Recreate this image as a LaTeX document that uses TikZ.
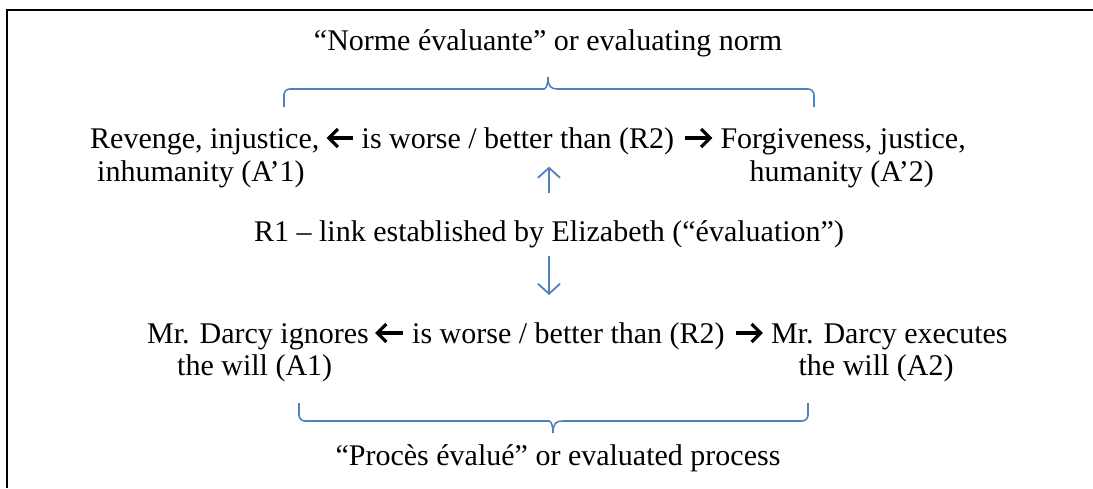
\documentclass[tikz,border=0pt]{standalone}
\usepackage{fontspec}
\setmainfont{Liberation Serif}
\usetikzlibrary{arrows.meta,calc}
\definecolor{braceblue}{RGB}{79,129,189}
\begin{document}
\begin{tikzpicture}[x=1pt,y=-1pt,
  txt/.style={inner sep=0pt,font=\fontsize{30}{33}\selectfont},
  frameline/.style={line width=2pt,black},
  bracestyle/.style={line width=1.6pt,braceblue},
  varrow/.style={line width=1.8pt,braceblue,-{Straight Barb[length=10pt,width=22pt]}},
  txtarrow/.style={line width=3.2pt,black,-{Straight Barb[length=9pt,width=18pt]}}]
\useasboundingbox (0,0) rectangle (1093,488);
\draw[frameline] (7,488) -- (7,10) -- (1093,10);

% titles
\node[txt,anchor=base] (T) at (548,50) {“Norme évaluante” or evaluating norm};
\node[txt,anchor=base] (B) at (558,465) {“Procès évalué” or evaluated process};

% top row
\node[txt,anchor=base west] (L1a) at (90,148) {Revenge, injustice,};
\node[txt,anchor=base west] (M1) at ($(L1a.base east)+(42,0)$) {is worse / better than (R2)};
\node[txt,anchor=base west] (R1a) at ($(M1.base east)+(46,0)$) {Forgiveness, justice,};
\node[txt,anchor=base west] (L1b) at ($(L1a.base west)+(7,33)$) {inhumanity (A’1)};
\node[txt,anchor=base east] (R1b) at ($(R1a.base east)+(-32,33)$) {humanity (A’2)};
\draw[txtarrow] ($(M1.base west)+(-9,-10)$) -- ($(L1a.base east)+(7,-10)$);
\draw[txtarrow] ($(M1.base east)+(11,-10)$) -- ($(R1a.base west)+(-8,-10)$);

% middle
\node[txt,anchor=base] (R1) at (549,241) {R1 – link established by Elizabeth (“évaluation”)};

% bottom row
\node[txt,anchor=base west] (L3a) at (147,343) {Mr. Darcy ignores};
\node[txt,anchor=base west] (M3) at ($(L3a.base east)+(43,0)$) {is worse / better than (R2)};
\node[txt,anchor=base west] (R3a) at ($(M3.base east)+(46,0)$) {Mr. Darcy executes};
\node[txt,anchor=base west] (L3b) at ($(L3a.base west)+(30,32)$) {the will (A1)};
\node[txt,anchor=base east] (R3b) at ($(R3a.base east)+(-54,32)$) {the will (A2)};
\draw[txtarrow] ($(M3.base west)+(-9,-10)$) -- ($(L3a.base east)+(6,-10)$);
\draw[txtarrow] ($(M3.base east)+(11,-10)$) -- ($(R3a.base west)+(-8,-10)$);

% vertical arrows
\draw[varrow,shorten <=27pt,shorten >=12pt] (R1.north) -- (R1.north |- M1.south);
\draw[varrow,shorten <=8pt,shorten >=27pt] (R1.south) -- (R1.south |- M3.north);

% braces
\draw[bracestyle] (284,107) [rounded corners=6pt] |- (538,89) [sharp corners]
  .. controls (545,89) and (548,87) .. (548,77)
  .. controls (548,87) and (551,89) .. (558,89)
  [rounded corners=6pt] -| (814,107);
\draw[bracestyle] (299,403) [rounded corners=6pt] |- (543,421) [sharp corners]
  .. controls (550,421) and (553,423) .. (553,433)
  .. controls (553,423) and (556,421) .. (563,421)
  [rounded corners=6pt] -| (808,403);
\end{tikzpicture}
\end{document}
